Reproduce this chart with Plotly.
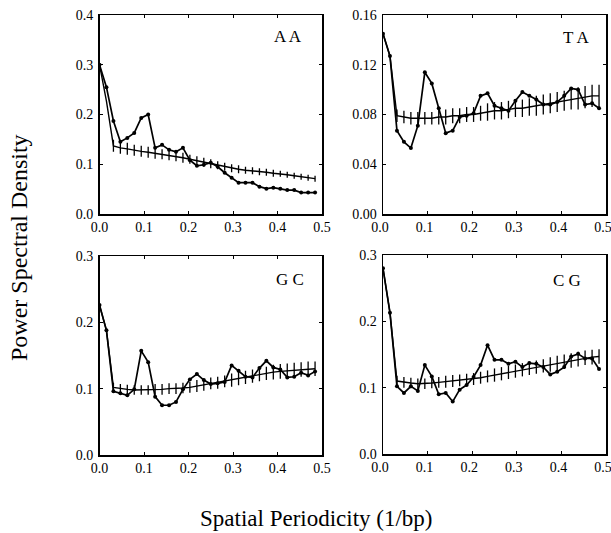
import plotly.graph_objects as go

# Spatial periodicity (1/bp)
freq = [0.0, 0.0156, 0.0313, 0.0469, 0.0625, 0.0781, 0.0938, 0.1094, 0.125, 0.1406,
        0.1563, 0.1719, 0.1875, 0.2031, 0.2188, 0.2344, 0.25, 0.2656, 0.2813, 0.2969,
        0.3125, 0.3281, 0.3438, 0.3594, 0.375, 0.3906, 0.4063, 0.4219, 0.4375, 0.4531,
        0.4688, 0.4844]

aa_obs = [0.300, 0.255, 0.187, 0.145, 0.153, 0.163, 0.193, 0.200, 0.133, 0.139,
          0.129, 0.125, 0.133, 0.108, 0.097, 0.099, 0.103, 0.095, 0.083, 0.073,
          0.063, 0.063, 0.063, 0.055, 0.051, 0.053, 0.051, 0.048, 0.048, 0.043,
          0.043, 0.043]
aa_mod = [0.300, 0.227, 0.137, 0.133, 0.131, 0.128, 0.126, 0.124, 0.122, 0.120,
          0.118, 0.116, 0.113, 0.110, 0.107, 0.104, 0.101, 0.098, 0.095, 0.092,
          0.090, 0.088, 0.087, 0.085, 0.084, 0.082, 0.081, 0.079, 0.077, 0.075,
          0.073, 0.071]
aa_err = [0, 0, 0.012, 0.012, 0.012, 0.011, 0.011, 0.011, 0.011, 0.010,
          0.010, 0.010, 0.010, 0.009, 0.009, 0.009, 0.009, 0.008, 0.008, 0.008,
          0.008, 0.007, 0.007, 0.007, 0.007, 0.007, 0.006, 0.006, 0.006, 0.006,
          0.006, 0.006]

ta_obs = [0.145, 0.127, 0.067, 0.058, 0.053, 0.071, 0.114, 0.105, 0.085, 0.065,
          0.067, 0.078, 0.079, 0.081, 0.095, 0.097, 0.087, 0.085, 0.083, 0.091,
          0.098, 0.095, 0.092, 0.088, 0.088, 0.090, 0.095, 0.101, 0.100, 0.088,
          0.089, 0.085]
ta_mod = [0.145, 0.127, 0.079, 0.078, 0.077, 0.077, 0.077, 0.077, 0.078, 0.078,
          0.079, 0.079, 0.080, 0.080, 0.081, 0.082, 0.083, 0.083, 0.084, 0.085,
          0.085, 0.086, 0.087, 0.088, 0.089, 0.090, 0.091, 0.092, 0.093, 0.094,
          0.095, 0.095]
ta_err = [0, 0, 0.005, 0.005, 0.005, 0.005, 0.005, 0.005, 0.006, 0.006,
          0.006, 0.006, 0.006, 0.006, 0.006, 0.007, 0.007, 0.007, 0.007, 0.007,
          0.007, 0.007, 0.008, 0.008, 0.008, 0.008, 0.008, 0.008, 0.009, 0.009,
          0.009, 0.009]

gc_obs = [0.226, 0.188, 0.096, 0.093, 0.090, 0.099, 0.157, 0.140, 0.088, 0.075,
          0.075, 0.080, 0.099, 0.114, 0.122, 0.113, 0.107, 0.108, 0.110, 0.135,
          0.127, 0.118, 0.117, 0.131, 0.142, 0.132, 0.129, 0.117, 0.118, 0.124,
          0.120, 0.126]
gc_mod = [0.226, 0.188, 0.102, 0.100, 0.099, 0.098, 0.098, 0.098, 0.099, 0.099,
          0.100, 0.100, 0.101, 0.102, 0.104, 0.106, 0.108, 0.109, 0.111, 0.113,
          0.115, 0.117, 0.119, 0.121, 0.123, 0.125, 0.126, 0.127, 0.128, 0.129,
          0.130, 0.130]
gc_err = [0, 0, 0.007, 0.007, 0.007, 0.007, 0.007, 0.007, 0.008, 0.008,
          0.008, 0.008, 0.008, 0.008, 0.009, 0.009, 0.009, 0.009, 0.009, 0.010,
          0.010, 0.010, 0.010, 0.010, 0.010, 0.011, 0.011, 0.011, 0.011, 0.011,
          0.011, 0.011]

cg_obs = [0.280, 0.213, 0.102, 0.092, 0.102, 0.095, 0.134, 0.117, 0.090, 0.092,
          0.079, 0.097, 0.104, 0.116, 0.134, 0.164, 0.142, 0.142, 0.136, 0.139,
          0.131, 0.137, 0.136, 0.131, 0.120, 0.124, 0.131, 0.147, 0.151, 0.144,
          0.144, 0.128]
cg_mod = [0.280, 0.213, 0.110, 0.108, 0.107, 0.106, 0.106, 0.107, 0.108, 0.109,
          0.110, 0.111, 0.112, 0.113, 0.115, 0.117, 0.119, 0.121, 0.123, 0.125,
          0.127, 0.129, 0.131, 0.133, 0.135, 0.137, 0.139, 0.141, 0.143, 0.145,
          0.146, 0.147]
cg_err = [0, 0, 0.008, 0.008, 0.008, 0.008, 0.008, 0.008, 0.008, 0.009,
          0.009, 0.009, 0.009, 0.009, 0.009, 0.009, 0.010, 0.010, 0.010, 0.010,
          0.010, 0.010, 0.010, 0.010, 0.011, 0.011, 0.011, 0.011, 0.011, 0.011,
          0.011, 0.011]

panel_names = ["A A", "T A", "G C", "C G"]
x_ticks = [0.0, 0.1, 0.2, 0.3, 0.4, 0.5]
x_tick_text = ["0.0", "0.1", "0.2", "0.3", "0.4", "0.5"]
y_ticks_aa = [0.0, 0.1, 0.2, 0.3, 0.4]
y_text_aa = ["0.0", "0.1", "0.2", "0.3", "0.4"]
y_ticks_ta = [0.0, 0.04, 0.08, 0.12, 0.16]
y_text_ta = ["0.00", "0.04", "0.08", "0.12", "0.16"]
y_ticks_gc = [0.0, 0.1, 0.2, 0.3]
y_text_gc = ["0.0", "0.1", "0.2", "0.3"]

W, H = 611, 533
SERIF = "Liberation Serif, Times New Roman, serif"


def px_x(X):
    return X / W


def px_y(Y):
    return 1 - Y / H


panels = [
    dict(obs=aa_obs, mod=aa_mod, err=aa_err, yr=0.4, yt=y_ticks_aa, ytt=y_text_aa,
         px=(99.5, 322), py=(15, 214), lab=(0.424, 0.356), shift=0),
    dict(obs=ta_obs, mod=ta_mod, err=ta_err, yr=0.16, yt=y_ticks_ta, ytt=y_text_ta,
         px=(383, 606), py=(15, 214), lab=(0.433, 0.142), shift=-3),
    dict(obs=gc_obs, mod=gc_mod, err=gc_err, yr=0.3, yt=y_ticks_gc, ytt=y_text_gc,
         px=(99.5, 322), py=(256, 455), lab=(0.428, 0.264), shift=0),
    dict(obs=cg_obs, mod=cg_mod, err=cg_err, yr=0.3, yt=y_ticks_gc, ytt=y_text_gc,
         px=(383, 606), py=(255, 454), lab=(0.413, 0.262), shift=-3),
]

fig = go.Figure()
layout = dict(
    width=W, height=H, margin=dict(l=0, r=0, t=0, b=0, autoexpand=False),
    paper_bgcolor="white", plot_bgcolor="white", showlegend=False,
    font=dict(family=SERIF, color="black"),
)
annotations = []
for i, p in enumerate(panels):
    n = i + 1
    xa = "x" if n == 1 else f"x{n}"
    ya = "y" if n == 1 else f"y{n}"
    fig.add_trace(go.Scatter(
        x=freq, y=p["mod"], xaxis=xa, yaxis=ya, mode="lines",
        line=dict(color="black", width=1.4),
        error_y=dict(type="data", array=p["err"], visible=True, color="black",
                     thickness=1.3, width=0),
    ))
    fig.add_trace(go.Scatter(
        x=freq, y=p["obs"], xaxis=xa, yaxis=ya, mode="lines+markers",
        line=dict(color="black", width=1.7),
        marker=dict(color="black", size=4),
    ))
    axcommon = dict(showgrid=False, zeroline=False, showline=True, linecolor="black",
                    linewidth=1.5, mirror="ticks", ticks="inside", ticklen=3,
                    automargin=False, ticklabeloverflow="allow",
                    tickcolor="black", tickfont=dict(family=SERIF, size=14, color="black"))
    layout["xaxis" if n == 1 else f"xaxis{n}"] = dict(
        domain=[px_x(p["px"][0]), px_x(p["px"][1])], range=[0, 0.5],
        tickvals=x_ticks, ticktext=x_tick_text, anchor=ya,
        ticklabelshift=p["shift"], **axcommon)
    layout["yaxis" if n == 1 else f"yaxis{n}"] = dict(
        domain=[px_y(p["py"][1]), px_y(p["py"][0])], range=[0, p["yr"]],
        tickvals=p["yt"], ticktext=p["ytt"], anchor=xa, ticklabelstandoff=2, **axcommon)
    annotations.append(dict(
        x=p["lab"][0], y=p["lab"][1], xref=xa, yref=ya, text=panel_names[i],
        showarrow=False, xanchor="center", yanchor="middle",
        font=dict(family=SERIF, size=17, color="black")))

annotations.append(dict(
    x=px_x(19), y=px_y(248), xref="paper", yref="paper",
    text="Power Spectral Density", textangle=-90, showarrow=False,
    xanchor="center", yanchor="middle",
    font=dict(family=SERIF, size=24, color="black")))
annotations.append(dict(
    x=px_x(316), y=px_y(518), xref="paper", yref="paper",
    text="Spatial Periodicity (1/bp)", showarrow=False,
    xanchor="center", yanchor="middle",
    font=dict(family=SERIF, size=23, color="black")))
layout["annotations"] = annotations
fig.update_layout(**layout)
# Remove the page's default 8px body margin so the 611x533 figure fills the window exactly.
fig.write_html("out.html", config={"displayModeBar": False, "staticPlot": True},
               post_script="document.body.style.margin='0';"
               "document.body.style.overflow='hidden';")
